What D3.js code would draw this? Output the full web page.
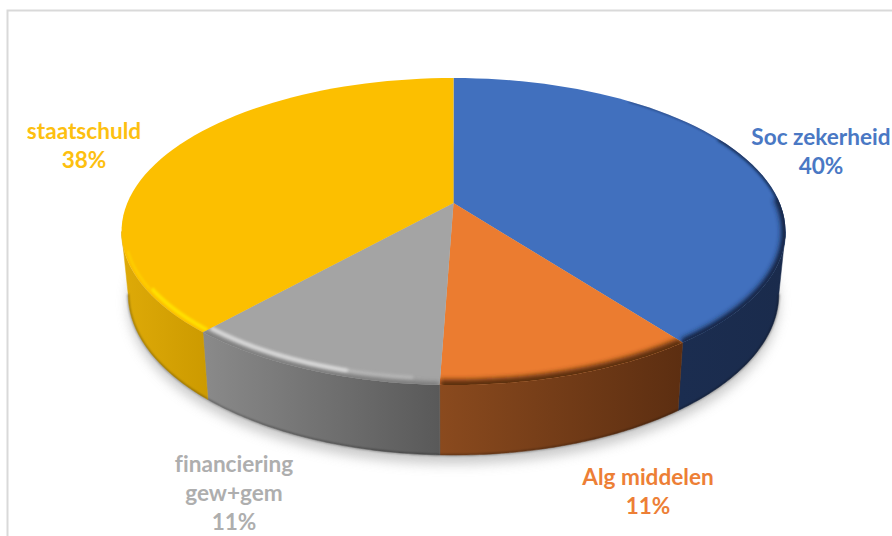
<!DOCTYPE html>
<html>
<head>
<meta charset="utf-8">
<script src="https://cdn.jsdelivr.net/npm/d3@7"></script>
<style>
  html, body { margin: 0; padding: 0; background: #fff; }
  svg { display: block; }
  text { font-family: Lato, "Open Sans", sans-serif; font-weight: 700; font-size: 22.6px; text-anchor: middle; font-variant-ligatures: none; }
</style>
</head>
<body>
<svg id="chart"></svg>
<script>
const categories = ["Soc zekerheid", "Alg middelen", "financiering|gew+gem", "staatschuld"];
const shares = [39.8, 10.75, 10.95, 38.5];
const percentLabels = ["40%", "11%", "11%", "38%"];
const colours = ["#4170be", "#eb7c30", "#a4a4a4", "#fcbf00"];
const labelColours = ["#4a78c4", "#ed7f36", "#aeaeae", "#fdc010"];

// wall shading, left and right colour of each slice
const wallLeft = ["#1b2d50", "#8a4a1e", "#8a8a8a", "#deaa08"];
const wallRight = ["#1a2b4c", "#5c2e11", "#595959", "#cc9a00"];

const width = 892, height = 536;

// label centre and first baseline
const labelPos = [[821, 145], [648, 485], [234, 472], [84, 139]];
const lineGap = 29;

// perspective disc: circle seen from the front, apex is the circle centre
const apex = [453.5, 203];
const radiusX = 326.2, scaleY = 148.2, persp = -0.1857;
const wallScaleX = 0.98, wallScaleY = 1.05, wallDrop = 61;
// the disc silhouette turns at this angle, the wall is only visible below it
const turn = Math.acos(persp);

function project(a, r) {
  const x = r * Math.sin(a), y = -r * Math.cos(a);
  const w = 1 + persp * y;
  return [radiusX * x / w, scaleY * y / w];
}
function topPoint(a, r) {
  const p = project(a, r === undefined ? 1 : r);
  return [apex[0] + p[0], apex[1] + p[1]];
}
function bottomPoint(a) {
  const p = project(a, 1);
  return [apex[0] + p[0] * wallScaleX, apex[1] + wallDrop + p[1] * wallScaleY];
}
function angles(a0, a1) {
  return d3.range(0, 61).map(i => a0 + (a1 - a0) * i / 60);
}

const line = d3.line();
const pie = d3.pie().sort(null).value(d => d);
const slices = pie(shares);

const svg = d3.select("#chart").attr("width", width).attr("height", height);
const defs = svg.append("defs");

[["blur1", 1], ["blur2", 1.6], ["blur3", 2.6], ["blurShadow", 6]].forEach(f => {
  defs.append("filter").attr("id", f[0])
    .attr("filterUnits", "userSpaceOnUse")
    .attr("x", 0).attr("y", 0).attr("width", width).attr("height", height)
    .append("feGaussianBlur").attr("stdDeviation", f[1]);
});

slices.forEach((d, i) => {
  const g = defs.append("linearGradient").attr("id", "wall" + i);
  g.append("stop").attr("offset", "0%").attr("stop-color", wallLeft[i]);
  g.append("stop").attr("offset", "100%").attr("stop-color", wallRight[i]);
  defs.append("clipPath").attr("id", "face" + i).append("path")
    .attr("d", line([apex].concat(angles(d.startAngle, d.endAngle).map(a => topPoint(a)))) + "Z");
});

// frame
svg.append("path").attr("d", "M7.5,536V10.5H892")
  .attr("fill", "none").attr("stroke", "#d9d9d9").attr("stroke-width", 2);

// soft shadow under the disc
const full = d3.range(0, 121).map(i => i / 120 * 2 * Math.PI);
svg.append("path")
  .attr("d", line(full.map(a => {
    const p = bottomPoint(a);
    return [p[0], p[1] + 9];
  })) + "Z")
  .attr("fill", "#bdbdbd").attr("opacity", 0.8).attr("filter", "url(#blurShadow)");

// walls, only the part of each slice in front of the turning point
const wallGroup = svg.append("g");
slices.forEach((d, i) => {
  const a0 = Math.max(d.startAngle, turn), a1 = Math.min(d.endAngle, 2 * Math.PI - turn);
  if (a1 <= a0) return;
  const as = angles(a0, a1);
  const pts = as.map(a => topPoint(a)).concat(as.slice().reverse().map(bottomPoint));
  wallGroup.append("path").attr("d", line(pts) + "Z")
    .attr("fill", "url(#wall" + i + ")")
    .attr("stroke", "url(#wall" + i + ")").attr("stroke-width", 0.5);
  // darker lower edge
  wallGroup.append("path").attr("d", line(as.map(bottomPoint)))
    .attr("fill", "none").attr("stroke", "#000").attr("stroke-opacity", 0.4)
    .attr("stroke-width", 1.6).attr("filter", "url(#blur1)");
});

// top faces
const faces = svg.append("g");
slices.forEach((d, i) => {
  faces.append("path")
    .attr("d", line([apex].concat(angles(d.startAngle, d.endAngle).map(a => topPoint(a)))) + "Z")
    .attr("fill", colours[i]);
});

// rim bevel: dark on blue and orange, light on grey and yellow
const deg = Math.PI / 180;
const bevels = [
  { slice: 0, from: 38, to: null, r: 1, colour: "#16264a", w: 2, op: 0.55, blur: "blur1" },
  { slice: 0, from: 62, to: null, r: 1, colour: "#16264a", w: 4, op: 0.75, blur: "blur2" },
  { slice: 0, from: 88, to: null, r: 1, colour: "#16264a", w: 9, op: 0.95, blur: "blur3" },
  { slice: 1, from: null, to: null, r: 1, colour: "#5c2e11", w: 11, op: 1, blur: "blur3" },
  { slice: 2, from: null, to: null, r: 1, colour: "#6a6a6a", w: 5, op: 0.9, blur: "blur3" },
  { slice: 2, from: 186, to: null, r: 0.972, colour: "#cfcfcf", w: 3, op: 0.5, blur: "blur2" },
  { slice: 2, from: 196, to: null, r: 0.972, colour: "#e6e6e6", w: 3.5, op: 0.8, blur: "blur2" },
  { slice: 3, from: null, to: 238, r: 0.985, colour: "#ffe000", w: 4, op: 1, blur: "blur1" },
  { slice: 3, from: 238, to: 252, r: 0.99, colour: "#ffe000", w: 2, op: 0.6, blur: "blur1" }
];
bevels.forEach(b => {
  const d = slices[b.slice];
  const a0 = b.from === null ? d.startAngle : b.from * deg;
  const a1 = b.to === null ? d.endAngle : b.to * deg;
  svg.append("g").attr("clip-path", "url(#face" + b.slice + ")")
    .append("path")
    .attr("d", line(angles(a0, a1).map(a => topPoint(a, b.r))))
    .attr("fill", "none").attr("stroke", b.colour)
    .attr("stroke-width", b.w).attr("stroke-opacity", b.op)
    .attr("filter", "url(#" + b.blur + ")");
});

// labels
categories.forEach((c, i) => {
  const lines = c.split("|").concat([percentLabels[i]]);
  svg.append("g").selectAll("text").data(lines).enter().append("text")
    .attr("x", labelPos[i][0])
    .attr("y", (t, j) => labelPos[i][1] + j * lineGap)
    .attr("fill", labelColours[i])
    .text(t => t);
});
</script>
</body>
</html>
